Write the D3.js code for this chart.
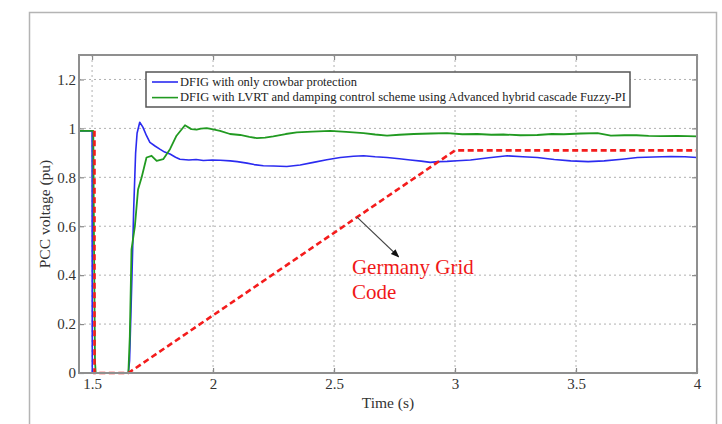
<!DOCTYPE html>
<html>
<head>
<meta charset="utf-8">
<script src="https://cdn.jsdelivr.net/npm/d3@7"></script>
<style>
  body { margin: 0; background: #fff; }
  svg { display: block; }
</style>
</head>
<body>
<svg id="chart" width="722" height="424"></svg>
<script>
// data
let xTicks = [1.5, 2, 2.5, 3, 3.5, 4];
let xTickLabels = ["1.5", "2", "2.5", "3", "3.5", "4"];
let yTicks = [0, 0.2, 0.4, 0.6, 0.8, 1, 1.2];
let yTickLabels = ["0", "0.2", "0.4", "0.6", "0.8", "1", "1.2"];

let blueTime = [1.446, 1.5, 1.501, 1.65, 1.655, 1.665, 1.672, 1.68, 1.686, 1.697, 1.71, 1.725, 1.739, 1.76, 1.78, 1.8, 1.822, 1.845, 1.863, 1.9, 1.93, 1.96, 1.996, 2.03, 2.071, 2.1, 2.14, 2.17, 2.208, 2.25, 2.305, 2.36, 2.415, 2.47, 2.526, 2.58, 2.622, 2.67, 2.719, 2.77, 2.815, 2.86, 2.898, 2.93, 2.967, 3.01, 3.064, 3.14, 3.216, 3.28, 3.34, 3.41, 3.478, 3.55, 3.616, 3.69, 3.754, 3.82, 3.892, 3.95, 4.0];
let blueVolt = [0.99, 0.99, 0, 0, 0.05, 0.4, 0.67, 0.9, 0.98, 1.025, 1.005, 0.97, 0.943, 0.928, 0.915, 0.903, 0.895, 0.882, 0.874, 0.871, 0.873, 0.869, 0.871, 0.87, 0.867, 0.864, 0.858, 0.852, 0.847, 0.846, 0.844, 0.85, 0.861, 0.872, 0.881, 0.886, 0.888, 0.884, 0.881, 0.876, 0.871, 0.866, 0.861, 0.864, 0.865, 0.868, 0.871, 0.88, 0.888, 0.884, 0.881, 0.873, 0.867, 0.864, 0.867, 0.874, 0.881, 0.883, 0.885, 0.884, 0.881];

let greenTime = [1.446, 1.505, 1.508, 1.512, 1.515, 1.65, 1.656, 1.663, 1.677, 1.69, 1.705, 1.725, 1.746, 1.767, 1.794, 1.822, 1.849, 1.884, 1.91, 1.932, 1.95, 1.974, 2.0, 2.029, 2.07, 2.112, 2.15, 2.181, 2.215, 2.249, 2.3, 2.346, 2.41, 2.484, 2.55, 2.622, 2.67, 2.719, 2.77, 2.829, 2.9, 2.967, 3.03, 3.092, 3.15, 3.2, 3.27, 3.34, 3.4, 3.45, 3.52, 3.589, 3.644, 3.7, 3.75, 3.8, 3.85, 3.92, 4.0];
let greenVolt = [0.99, 0.99, 0.53, 0.05, 0, 0, 0.15, 0.505, 0.6, 0.75, 0.8, 0.881, 0.888, 0.867, 0.874, 0.915, 0.97, 1.013, 0.997, 0.995, 0.999, 1.001, 0.996, 0.99, 0.977, 0.973, 0.965, 0.96, 0.962, 0.967, 0.977, 0.984, 0.987, 0.99, 0.986, 0.981, 0.975, 0.97, 0.974, 0.977, 0.979, 0.981, 0.976, 0.977, 0.974, 0.975, 0.972, 0.973, 0.977, 0.976, 0.979, 0.981, 0.97, 0.972, 0.972, 0.969, 0.968, 0.969, 0.967];

let gridCodeTime = [1.51, 1.51, 1.65, 3.0, 4.0];
let gridCodeVolt = [0.99, 0, 0, 0.91, 0.91];

let legendLabels = ["DFIG with only crowbar protection", "DFIG with LVRT and damping control scheme using Advanced hybrid cascade Fuzzy-PI"];
let legendColors = ["#2b2bf0", "#219a21"];
let annotationLines = ["Germany Grid", "Code"];
let arrowFrom = [2.595, 0.637];
let arrowTo = [2.767, 0.475];

let margin = {top: 55, right: 25, bottom: 51, left: 79};
let width = 697 - margin.left;
let height = 373 - margin.top;
let serif = "'Liberation Serif', 'Times New Roman', serif";

let svg = d3.select("#chart");
svg.append("rect").attr("width", 722).attr("height", 424).attr("fill", "#fff");

// outer frame of the figure
svg.append("path")
    .attr("d", "M29.5,424 L29.5,12.5 L716.5,12.5 L716.5,424")
    .attr("fill", "none")
    .attr("stroke", "#b4b4b4")
    .attr("stroke-width", 1.5);

let figure = svg.append("g")
    .attr("transform", "translate(" + margin.left + "," + margin.top + ")");

let x = d3.scaleLinear().domain([1.446, 4]).range([0, width]);
let y = d3.scaleLinear().domain([0, 1.3]).range([height, 0]);

// dotted grid
figure.append("g").selectAll("line")
    .data(xTicks)
    .enter()
    .append("line")
    .attr("x1", d => x(d)).attr("x2", d => x(d))
    .attr("y1", 0).attr("y2", height)
    .attr("stroke", "#b0b0b0")
    .attr("stroke-width", 1)
    .attr("stroke-dasharray", "2,3");

figure.append("g").selectAll("line")
    .data(yTicks)
    .enter()
    .append("line")
    .attr("x1", 0).attr("x2", width)
    .attr("y1", d => y(d)).attr("y2", d => y(d))
    .attr("stroke", "#b0b0b0")
    .attr("stroke-width", 1)
    .attr("stroke-dasharray", "2,3");

// axes with inward ticks, MATLAB style
function styleAxis(g){
    g.select(".domain").remove();
    g.selectAll(".tick line").attr("stroke", "#8a8a8a").attr("stroke-width", 1.2);
    g.selectAll(".tick text")
        .attr("fill", "#333")
        .style("font-family", serif)
        .style("font-size", "15px");
}

figure.append("g")
    .attr("transform", "translate(0," + height + ")")
    .call(d3.axisBottom(x).tickValues(xTicks).tickSize(-5).tickPadding(5)
        .tickFormat((d, i) => xTickLabels[i]))
    .call(styleAxis);

figure.append("g")
    .call(d3.axisLeft(y).tickValues(yTicks).tickSize(-5).tickPadding(3)
        .tickFormat((d, i) => yTickLabels[i]))
    .call(styleAxis);

figure.append("g")
    .call(d3.axisTop(x).tickValues(xTicks).tickSize(-5).tickFormat(""))
    .call(styleAxis);

figure.append("g")
    .attr("transform", "translate(" + width + ",0)")
    .call(d3.axisRight(y).tickValues(yTicks).tickSize(-5).tickFormat(""))
    .call(styleAxis);

// series
let line = d3.line().x(d => x(d[0])).y(d => y(d[1]));

figure.append("path")
    .datum(blueTime.map((t, i) => [t, blueVolt[i]]))
    .attr("d", line)
    .attr("fill", "none")
    .attr("stroke", legendColors[0])
    .attr("stroke-width", 1.6)
    .attr("stroke-linejoin", "round");

figure.append("path")
    .datum(greenTime.map((t, i) => [t, greenVolt[i]]))
    .attr("d", line)
    .attr("fill", "none")
    .attr("stroke", legendColors[1])
    .attr("stroke-width", 1.8)
    .attr("stroke-linejoin", "round");

figure.append("path")
    .datum(gridCodeTime.map((t, i) => [t, gridCodeVolt[i]]))
    .attr("d", line)
    .attr("fill", "none")
    .attr("stroke", "#f41c1c")
    .attr("stroke-width", 2.6)
    .attr("stroke-dasharray", "6,3.5");

// axes box
figure.append("rect")
    .attr("width", width)
    .attr("height", height)
    .attr("fill", "none")
    .attr("stroke", "#8f8f8f")
    .attr("stroke-width", 2);

// legend
let legend = figure.append("g").attr("transform", "translate(" + (146 - margin.left) + "," + (72 - margin.top) + ")");
legend.append("rect")
    .attr("width", 484)
    .attr("height", 35)
    .attr("fill", "#fff")
    .attr("stroke", "#555")
    .attr("stroke-width", 1.5);

let legendWidths = [177, 446];
legendLabels.forEach(function(label, i){
    let ly = 10 + i * 15.6;
    legend.append("line")
        .attr("x1", 6).attr("x2", 32)
        .attr("y1", ly).attr("y2", ly)
        .attr("stroke", legendColors[i])
        .attr("stroke-width", 1.6);
    legend.append("text")
        .attr("x", 34)
        .attr("y", ly + 3.8)
        .attr("textLength", legendWidths[i])
        .attr("lengthAdjust", "spacingAndGlyphs")
        .style("font-family", serif)
        .style("font-size", "11.5px")
        .style("fill", "#222")
        .text(label);
});

// annotation
svg.append("defs").append("marker")
    .attr("id", "arrowhead")
    .attr("viewBox", "0 0 10 10")
    .attr("refX", 9).attr("refY", 5)
    .attr("markerWidth", 7).attr("markerHeight", 7)
    .attr("orient", "auto")
    .append("path")
    .attr("d", "M0,1 L10,5 L0,9 Z")
    .attr("fill", "#111");

figure.append("line")
    .attr("x1", x(arrowFrom[0])).attr("y1", y(arrowFrom[1]))
    .attr("x2", x(arrowTo[0])).attr("y2", y(arrowTo[1]))
    .attr("stroke", "#444")
    .attr("stroke-width", 1.2)
    .attr("marker-end", "url(#arrowhead)");

annotationLines.forEach(function(txt, i){
    figure.append("text")
        .attr("x", x(2.574))
        .attr("y", y(0.403) + i * 25)
        .style("font-family", serif)
        .style("font-size", "21px")
        .style("fill", "#f01818")
        .text(txt);
});

// axis labels
svg.append("text")
    .attr("x", margin.left + width / 2)
    .attr("y", 408)
    .attr("text-anchor", "middle")
    .style("font-family", serif)
    .style("font-size", "15.5px")
    .style("fill", "#333")
    .text("Time (s)");

svg.append("text")
    .attr("transform", "rotate(-90)")
    .attr("x", -(margin.top + height / 2))
    .attr("y", 50)
    .attr("text-anchor", "middle")
    .style("font-family", serif)
    .style("font-size", "15.5px")
    .style("fill", "#333")
    .text("PCC voltage (pu)");
</script>
</body>
</html>
